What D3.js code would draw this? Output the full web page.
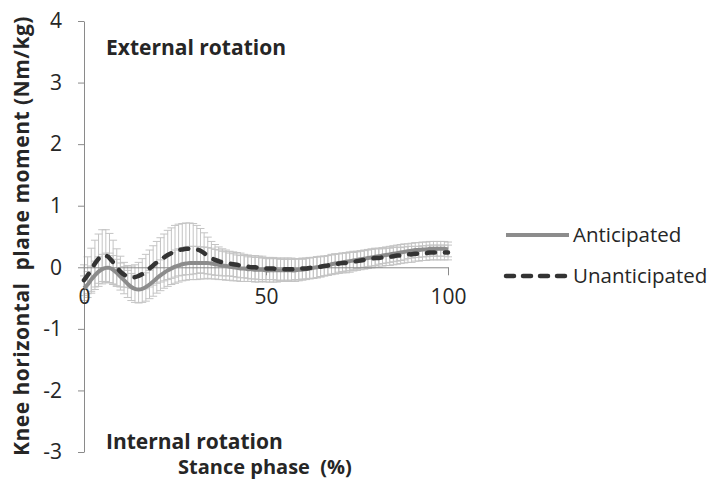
<!DOCTYPE html>
<html>
<head>
<meta charset="utf-8">
<script src="https://cdn.jsdelivr.net/npm/d3@7"></script>
<style>
  html, body { margin: 0; padding: 0; background: #fff; }
  svg { display: block; }
  text { font-family: "Open Sans", "Liberation Sans", sans-serif; }
</style>
</head>
<body>
<svg id="chart" width="716" height="486"></svg>
<script>
// Stance phase (%) sampled every 1%
const stance = d3.range(0, 101);

// Knee horizontal plane moment (Nm/kg), mean curves
const anticipated = [
  -0.34, -0.28, -0.20, -0.13, -0.07, -0.03, -0.01, -0.01, -0.04, -0.09,
  -0.15, -0.21, -0.27, -0.32, -0.35, -0.36, -0.35, -0.32, -0.28, -0.23,
  -0.18, -0.13, -0.09, -0.05, -0.02, 0.01, 0.03, 0.05, 0.06, 0.07,
  0.07, 0.07, 0.07, 0.07, 0.07, 0.06, 0.05, 0.04, 0.03, 0.02,
  0.01, 0.00, -0.01, -0.02, -0.02, -0.03, -0.03, -0.04, -0.04, -0.04,
  -0.05, -0.05, -0.05, -0.05, -0.05, -0.05, -0.05, -0.05, -0.05, -0.04,
  -0.04, -0.03, -0.02, -0.01, 0.00, 0.01, 0.02, 0.03, 0.05, 0.06,
  0.07, 0.08, 0.09, 0.10, 0.11, 0.12, 0.13, 0.14, 0.15, 0.16,
  0.17, 0.18, 0.19, 0.20, 0.21, 0.22, 0.23, 0.24, 0.25, 0.26,
  0.27, 0.28, 0.28, 0.29, 0.29, 0.30, 0.30, 0.30, 0.30, 0.30,
  0.29
];
const unanticipated = [
  -0.21, -0.13, -0.04, 0.06, 0.14, 0.19, 0.19, 0.15, 0.08, 0.00,
  -0.07, -0.12, -0.15, -0.16, -0.16, -0.14, -0.11, -0.07, -0.02, 0.03,
  0.08, 0.12, 0.16, 0.20, 0.23, 0.26, 0.28, 0.29, 0.30, 0.30,
  0.30, 0.29, 0.27, 0.23, 0.19, 0.15, 0.12, 0.10, 0.08, 0.07,
  0.06, 0.05, 0.04, 0.03, 0.02, 0.01, 0.00, 0.00, -0.01, -0.01,
  -0.02, -0.02, -0.02, -0.03, -0.03, -0.03, -0.03, -0.03, -0.03, -0.03,
  -0.02, -0.02, -0.01, -0.01, 0.00, 0.01, 0.02, 0.03, 0.04, 0.05,
  0.06, 0.07, 0.07, 0.08, 0.09, 0.10, 0.11, 0.12, 0.13, 0.14,
  0.15, 0.15, 0.16, 0.17, 0.17, 0.18, 0.19, 0.19, 0.20, 0.21,
  0.21, 0.22, 0.22, 0.23, 0.23, 0.24, 0.24, 0.24, 0.24, 0.24,
  0.24
];

// Standard deviations (Nm/kg)
const anticipatedSD = [
  0.20, 0.21, 0.22, 0.23, 0.24, 0.24, 0.24, 0.24, 0.23, 0.22,
  0.22, 0.22, 0.22, 0.22, 0.22, 0.22, 0.22, 0.23, 0.23, 0.24,
  0.24, 0.25, 0.25, 0.26, 0.26, 0.27, 0.27, 0.27, 0.27, 0.27,
  0.27, 0.27, 0.26, 0.26, 0.25, 0.25, 0.24, 0.24, 0.23, 0.23,
  0.22, 0.22, 0.21, 0.21, 0.21, 0.20, 0.20, 0.20, 0.20, 0.19,
  0.19, 0.19, 0.19, 0.19, 0.18, 0.18, 0.18, 0.18, 0.18, 0.18,
  0.17, 0.17, 0.17, 0.17, 0.17, 0.16, 0.16, 0.16, 0.16, 0.16,
  0.15, 0.15, 0.15, 0.15, 0.15, 0.14, 0.14, 0.14, 0.14, 0.14,
  0.14, 0.13, 0.13, 0.13, 0.13, 0.13, 0.13, 0.13, 0.13, 0.12,
  0.12, 0.12, 0.12, 0.12, 0.12, 0.12, 0.12, 0.12, 0.12, 0.12,
  0.12
];
const unanticipatedSD = [
  0.25, 0.30, 0.35, 0.38, 0.40, 0.42, 0.42, 0.40, 0.36, 0.30,
  0.25, 0.20, 0.18, 0.18, 0.20, 0.22, 0.25, 0.28, 0.30, 0.32,
  0.34, 0.36, 0.38, 0.40, 0.41, 0.42, 0.42, 0.42, 0.42, 0.42,
  0.41, 0.39, 0.36, 0.33, 0.30, 0.27, 0.25, 0.23, 0.22, 0.21,
  0.20, 0.20, 0.20, 0.20, 0.19, 0.19, 0.19, 0.19, 0.19, 0.19,
  0.18, 0.18, 0.18, 0.18, 0.18, 0.18, 0.18, 0.18, 0.17, 0.17,
  0.17, 0.17, 0.17, 0.17, 0.17, 0.17, 0.16, 0.16, 0.16, 0.16,
  0.16, 0.16, 0.16, 0.16, 0.15, 0.15, 0.15, 0.15, 0.15, 0.15,
  0.15, 0.15, 0.14, 0.14, 0.14, 0.14, 0.14, 0.13, 0.13, 0.13,
  0.13, 0.12, 0.12, 0.12, 0.12, 0.12, 0.12, 0.12, 0.12, 0.12,
  0.12
];

const xTicks = [0, 50, 100];
const yTicks = [-3, -2, -1, 0, 1, 2, 3, 4];
const seriesNames = ["Anticipated", "Unanticipated"];

const svg = d3.select("#chart");

const x = d3.scaleLinear().domain([0, 100]).range([84, 448]);
const y = d3.scaleLinear().domain([-3, 4]).range([452, 21]);

const axisColor = "#8a8a8a";
const textColor = "#262626";
const plainNumber = d => String(d);

// Error bars (light gray, with caps)
const series = [
  { name: seriesNames[0], mean: anticipated, sd: anticipatedSD,
    stroke: "#8c8c8c", width: 4, dash: null, cap: "butt" },
  { name: seriesNames[1], mean: unanticipated, sd: unanticipatedSD,
    stroke: "#333333", width: 4.5, dash: "8,10", cap: "round" }
];

const errG = svg.append("g").attr("stroke", "#c4c4c4").attr("stroke-width", 1).attr("fill", "none");
series.forEach(s => {
  stance.forEach((p, i) => {
    const top = y(s.mean[i] + s.sd[i]);
    const bot = y(s.mean[i] - s.sd[i]);
    const cx = x(p);
    errG.append("line").attr("x1", cx).attr("x2", cx).attr("y1", top).attr("y2", bot);
    errG.append("line").attr("x1", cx - 4).attr("x2", cx + 4).attr("y1", top).attr("y2", top);
    errG.append("line").attr("x1", cx - 4).attr("x2", cx + 4).attr("y1", bot).attr("y2", bot);
  });
});

// Axes
const yAxis = d3.axisLeft(y).tickValues(yTicks).tickFormat(plainNumber)
  .tickSize(6).tickSizeOuter(0).tickPadding(16);
const gy = svg.append("g").attr("transform", `translate(${x(0)},0)`).call(yAxis);
gy.select(".domain").attr("stroke", axisColor);
gy.selectAll(".tick line").attr("stroke", axisColor);
gy.selectAll(".tick text").attr("fill", textColor).style("font-size", "21px");

const xAxis = d3.axisBottom(x).tickValues(xTicks).tickFormat(plainNumber)
  .tickSize(8).tickSizeOuter(0).tickPadding(14);
const gx = svg.append("g").attr("transform", `translate(0,${y(0)})`).call(xAxis);
gx.select(".domain").attr("stroke", axisColor);
gx.selectAll(".tick line").attr("stroke", axisColor);
gx.selectAll(".tick text").attr("fill", textColor).style("font-size", "21px");

// Mean curves
const line = d3.line().x((d, i) => x(stance[i])).y(d => y(d)).curve(d3.curveCatmullRom);
series.forEach(s => {
  svg.append("path")
    .datum(s.mean)
    .attr("fill", "none")
    .attr("stroke", s.stroke)
    .attr("stroke-width", s.width)
    .attr("stroke-linecap", s.cap)
    .attr("stroke-dasharray", s.dash)
    .attr("d", line);
});

// Legend
const legendY = [235, 276];
series.forEach((s, i) => {
  svg.append("line")
    .attr("x1", 506).attr("x2", 569)
    .attr("y1", legendY[i]).attr("y2", legendY[i])
    .attr("stroke", s.stroke)
    .attr("stroke-width", s.width)
    .attr("stroke-linecap", s.cap)
    .attr("stroke-dasharray", s.dash ? "8,9" : null);
  svg.append("text")
    .attr("x", 573).attr("y", legendY[i])
    .attr("dy", "0.35em")
    .attr("fill", textColor)
    .style("font-size", "20.5px")
    .text(s.name);
});

// Annotations and axis titles
svg.append("text")
  .attr("x", 106).attr("y", 55)
  .attr("fill", textColor)
  .style("font-size", "21px").style("font-weight", "bold")
  .text("External rotation");

svg.append("text")
  .attr("x", 106).attr("y", 449)
  .attr("fill", textColor)
  .style("font-size", "21px").style("font-weight", "bold")
  .text("Internal rotation");

svg.append("text")
  .attr("x", 265).attr("y", 474)
  .attr("text-anchor", "middle")
  .attr("fill", textColor)
  .style("font-size", "20px").style("font-weight", "bold")
  .style("white-space", "pre")
  .text("Stance phase  (%)");

svg.append("text")
  .attr("transform", "translate(29,236) rotate(-90)")
  .attr("text-anchor", "middle")
  .attr("fill", textColor)
  .style("font-size", "21px").style("font-weight", "bold")
  .style("letter-spacing", "0.5px")
  .style("white-space", "pre")
  .text("Knee horizontal  plane moment (Nm/kg)");
</script>
</body>
</html>
